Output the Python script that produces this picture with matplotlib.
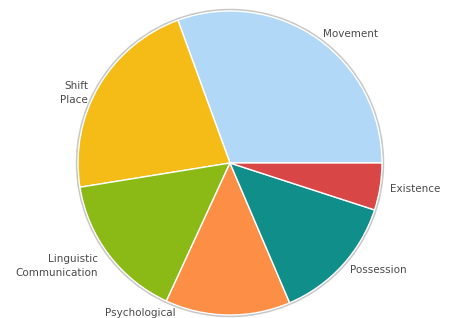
import matplotlib
matplotlib.use("Agg")
import matplotlib.pyplot as plt
from matplotlib.patches import Circle

labels = ["Movement", "Shift\nPlace", "Linguistic\nCommunication", "Psychological", "Possession", "Existence"]
values = [30.6, 22.0, 15.6, 13.3, 13.6, 5.0]
colors = ["#b1d8f6", "#f5bc17", "#8bba16", "#fd8e46", "#0f8e8a", "#d84646"]

W, H = 450, 318
fig = plt.figure(figsize=(W / 100, H / 100), dpi=100)
ax = fig.add_axes([0, 0, 1, 1])

cx, cy, r = 230, H - 163, 152

# soft grey rim behind the pie
ax.add_patch(Circle((cx, cy), r + 1.2, facecolor="none", edgecolor="#c8c8c8", lw=1.5, zorder=0))

wedges, texts = ax.pie(values, labels=labels, colors=colors, startangle=0, counterclock=True,
                       center=(cx, cy), radius=r, labeldistance=1.1, frame=True,
                       wedgeprops=dict(edgecolor="white", linewidth=1),
                       textprops=dict(fontsize=7.5, color="#4a4a4a", va="center", linespacing=1.45))
ax.set_xlim(0, W)
ax.set_ylim(0, H)
ax.set_aspect("equal")
ax.axis("off")

# label placement as in the original (pixel coords from top)
spots = [(323, 34, "left"), (88, 93, "right"), (98, 266, "right"),
         (140, 313, "center"), (350, 270, "left"), (390, 189, "left")]
for t, (x, y, ha) in zip(texts, spots):
    t.set_position((x, H - y))
    t.set_ha(ha)
    t.set_multialignment(ha)

fig.savefig("out.png", dpi=100)
